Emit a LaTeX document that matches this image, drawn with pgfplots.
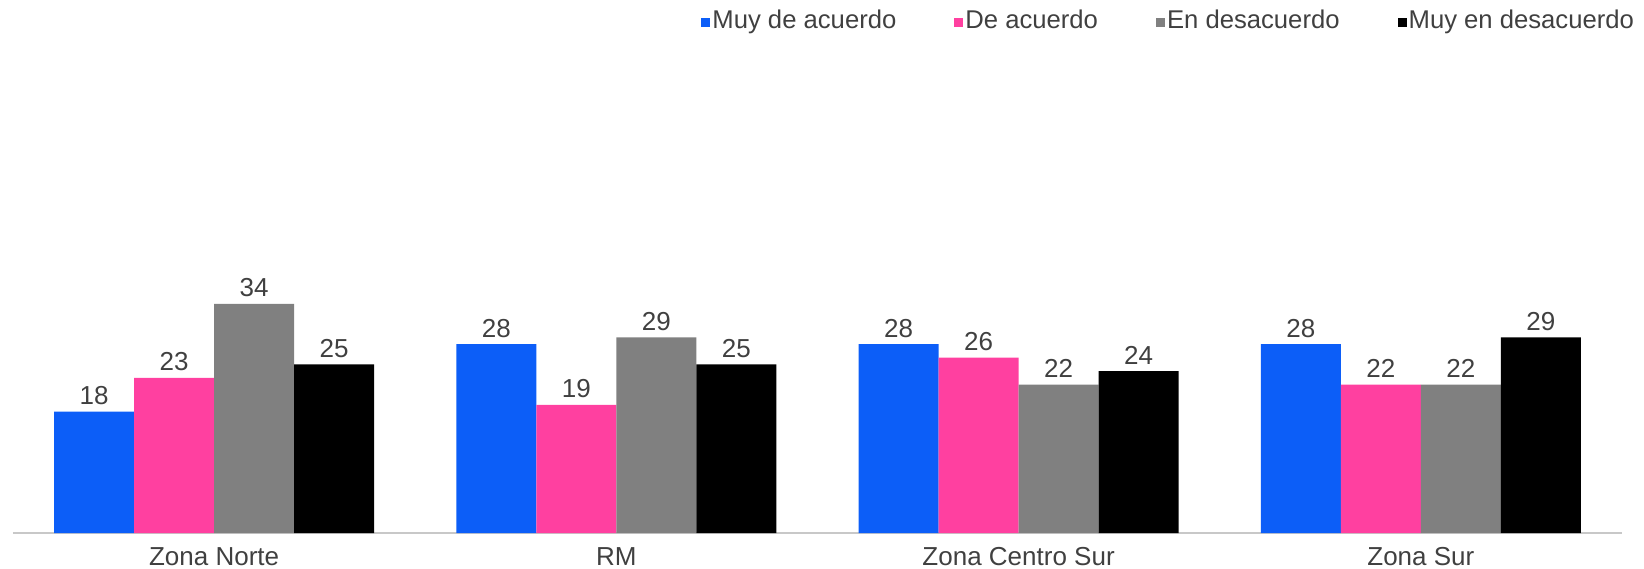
\documentclass[border=0pt]{standalone}
\usepackage{pgfplots}
\pgfplotsset{compat=1.18}
\usepackage{fontspec}
\setmainfont{Liberation Sans}

\definecolor{cblue}{RGB}{12,94,248}
\definecolor{cpink}{RGB}{255,64,160}
\definecolor{cgray}{RGB}{128,128,128}
\definecolor{txt}{RGB}{64,64,64}
\definecolor{axgray}{RGB}{200,200,200}

\begin{document}
\begin{tikzpicture}
% frame of the picture, 0.1mm per pixel of the reference
\path[use as bounding box] (-1.3mm,-3.5mm) rectangle (163.1mm,53.3mm);
\begin{axis}[
    scale only axis,
    width=160.9mm, height=47.2mm,
    ybar=0pt, bar width=8mm,
    xmin=-0.5, xmax=3.5, ymin=0, ymax=70,
    xtick=data,
    xticklabels={Zona Norte, RM, Zona Centro Sur, Zona Sur},
    xticklabel style={font=\fontsize{7.4}{8}\selectfont, text=txt, yshift=-0.2mm},
    major tick length=0,
    axis x line*=bottom,
    x axis line style={axgray, line width=0.25mm, -},
    axis y line=none,
    /pgf/number format/assume math mode=true,
    nodes near coords,
    every node near coord/.append style={font=\fontsize{7.4}{8}\selectfont, text=txt, inner sep=0.6mm},
    legend columns=-1,
    legend style={draw=none, fill=none, inner sep=0pt, outer sep=0pt,
        at={(1.0087,1.0826)}, anchor=east,
        font=\fontsize{7.3}{8}\selectfont, text=txt,
        nodes={inner sep=0.2mm},
        /tikz/every even column/.append style={column sep=5.6mm},
        /tikz/every odd column/.append style={column sep=0mm}},
    legend image code/.code={\fill[#1] (0mm,-0.45mm) rectangle (0.9mm,0.45mm);},
]
\addplot[fill=cblue, draw=none] coordinates {(0,18) (1,28) (2,28) (3,28)};
\addlegendentry{Muy de acuerdo}
\addplot[fill=cpink, draw=none] coordinates {(0,23) (1,19) (2,26) (3,22)};
\addlegendentry{De acuerdo}
\addplot[fill=cgray, draw=none] coordinates {(0,34) (1,29) (2,22) (3,22)};
\addlegendentry{En desacuerdo}
\addplot[fill=black, draw=none] coordinates {(0,25) (1,25) (2,24) (3,29)};
\addlegendentry{Muy en desacuerdo}
\end{axis}
\end{tikzpicture}
\end{document}
